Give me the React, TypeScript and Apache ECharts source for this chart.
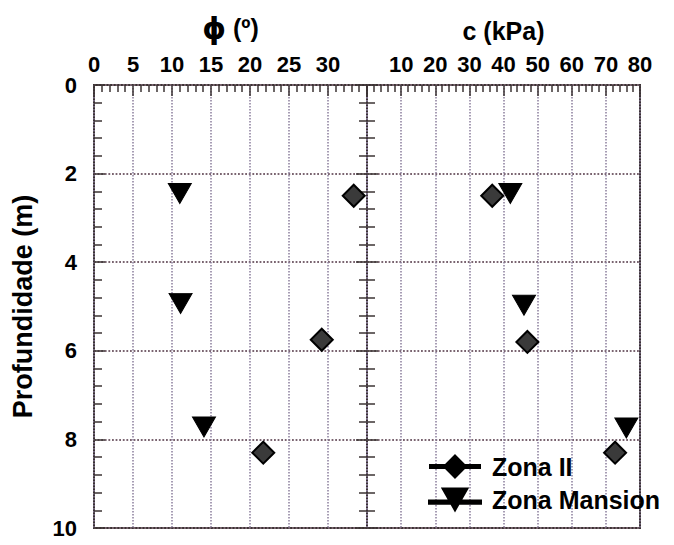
import React, { useEffect, useRef } from "react";
import * as echarts from "echarts";

// Zona II (diamond) and Zona Mansion (inverted triangle)
const phiZonaII: [number, number][] = [[33.3, 2.5], [29.2, 5.75], [21.7, 8.3]];
const phiMansion: [number, number][] = [[11.0, 2.45], [11.1, 4.93], [14.1, 7.72]];
const cZonaII: [number, number][] = [[36.7, 2.5], [47.0, 5.8], [72.7, 8.3]];
const cMansion: [number, number][] = [[42.0, 2.45], [46.0, 4.97], [76.0, 7.74]];

const seriesNames = ["Zona II", "Zona Mansion"];
const phiRange = [0, 35];
const cRange = [0, 80];
const depthRange = [0, 10];

const FONT = "Liberation Sans, Arial, Helvetica, sans-serif";
const FRAME = "#3b3333";
const DIAMOND = "path://M10,0 L20,10 L10,20 L0,10 Z";
const TRI = "path://M0,0 L22,0 L11,19 Z";
const LEG_DIAMOND = "path://M0,9.5 L50,9.5 L50,12.5 L0,12.5 Z M25,0 L36,11 L25,22 L14,11 Z";
const LEG_TRI = "path://M0,11.5 L50,11.5 L50,14.5 L0,14.5 Z M13,0 L37,0 L25,21 Z";

export default function App() {
  const ref = useRef<HTMLDivElement>(null);
  useEffect(() => {
    document.body.style.margin = "0";
    const chart = echarts.init(ref.current!, null, { renderer: "svg" });
    const tickStyle = { color: FRAME, width: 1.5 };
    const vSplit = { show: true, lineStyle: { type: "dotted", color: "#8a7d9c", width: 1.5 } };
    const hSplit = { show: true, lineStyle: { type: "dotted", color: "#7a6470", width: 1.8 } };
    const labelStyle = { fontFamily: FONT, fontWeight: "bold", fontSize: 22, color: "#000" };

    const diamondStyle = { color: "#3a3a3a", borderColor: "#000", borderWidth: 2, opacity: 1 };
    const triStyle = { color: "#000", borderColor: "#000", borderWidth: 1, opacity: 1 };

    chart.setOption({
      animation: false,
      backgroundColor: "#fff",
      textStyle: { fontFamily: FONT },
      grid: [
        { left: 94, top: 85, width: 273, height: 443, show: true, borderColor: FRAME, borderWidth: 2, backgroundColor: "transparent" },
        { left: 367, top: 85, width: 273, height: 443, show: true, borderColor: FRAME, borderWidth: 2, backgroundColor: "transparent" },
      ],
      xAxis: [
        {
          gridIndex: 0, type: "value", position: "top", min: phiRange[0], max: phiRange[1], interval: 5,
          axisLine: { show: false },
          axisTick: { show: true, inside: true, length: 11, lineStyle: tickStyle },
          minorTick: { show: true, splitNumber: 5, length: 7, lineStyle: tickStyle },
          axisLabel: { ...labelStyle, margin: 10, formatter: (v: number) => (v === phiRange[1] ? "" : String(v)) },
          splitLine: vSplit,
          name: "{phi|ϕ} (º)", nameLocation: "middle", nameGap: 42,
          nameTextStyle: {
            ...labelStyle, fontSize: 25,
            rich: { phi: { fontFamily: "DejaVu Sans, Liberation Sans", fontWeight: "bold", fontSize: 30, color: "#000" } },
          },
        },
        {
          gridIndex: 1, type: "value", position: "top", min: cRange[0], max: cRange[1], interval: 10,
          axisLine: { show: false },
          axisTick: { show: true, inside: true, length: 11, lineStyle: tickStyle },
          minorTick: { show: true, splitNumber: 5, length: 7, lineStyle: tickStyle },
          axisLabel: { ...labelStyle, margin: 10, formatter: (v: number) => (v === cRange[0] ? "" : String(v)) },
          splitLine: vSplit,
          name: "c (kPa)", nameLocation: "middle", nameGap: 42,
          nameTextStyle: { ...labelStyle, fontSize: 25 },
        },
      ],
      yAxis: [
        {
          gridIndex: 0, type: "value", inverse: true, position: "left", min: depthRange[0], max: depthRange[1], interval: 2,
          axisLine: { show: false },
          axisTick: { show: true, inside: true, length: 11, lineStyle: tickStyle },
          minorTick: { show: true, splitNumber: 5, length: 8, lineStyle: tickStyle },
          axisLabel: { ...labelStyle, margin: 17 },
          splitLine: hSplit,
          name: "Profundidade (m)", nameLocation: "middle", nameGap: 58, nameRotate: 90,
          nameTextStyle: { ...labelStyle, fontSize: 27 },
        },
        {
          gridIndex: 0, type: "value", inverse: true, position: "right", min: depthRange[0], max: depthRange[1], interval: 2,
          axisLine: { show: false },
          axisTick: { show: true, inside: true, length: 11, lineStyle: tickStyle },
          minorTick: { show: true, splitNumber: 5, length: 8, lineStyle: tickStyle },
          axisLabel: { show: false },
          splitLine: { show: false },
        },
        {
          gridIndex: 1, type: "value", inverse: true, position: "left", min: depthRange[0], max: depthRange[1], interval: 2,
          axisLine: { show: false },
          axisTick: { show: true, inside: true, length: 11, lineStyle: tickStyle },
          minorTick: { show: true, splitNumber: 5, length: 8, lineStyle: tickStyle },
          axisLabel: { show: false },
          splitLine: hSplit,
        },
      ],
      legend: {
        orient: "vertical",
        left: 426,
        top: 452,
        itemWidth: 52,
        itemHeight: 22,
        itemGap: 8,
        padding: [2, 4, 2, 2],
        itemStyle: { color: "#000", borderColor: "#000", opacity: 1 },
        textStyle: { fontFamily: FONT, fontWeight: "bold", fontSize: 25, color: "#000", padding: [0, 0, 0, 6] },
        data: [
          { name: seriesNames[0], icon: LEG_DIAMOND },
          { name: seriesNames[1], icon: LEG_TRI },
        ],
      },
      series: [
        { name: seriesNames[0], type: "scatter", xAxisIndex: 0, yAxisIndex: 0, data: phiZonaII, symbol: DIAMOND, symbolSize: 22, itemStyle: diamondStyle, z: 5 },
        { name: seriesNames[1], type: "scatter", xAxisIndex: 0, yAxisIndex: 0, data: phiMansion, symbol: TRI, symbolSize: [23, 20], itemStyle: triStyle, z: 5 },
        { name: seriesNames[0], type: "scatter", xAxisIndex: 1, yAxisIndex: 2, data: cZonaII, symbol: DIAMOND, symbolSize: 22, itemStyle: diamondStyle, z: 5 },
        { name: seriesNames[1], type: "scatter", xAxisIndex: 1, yAxisIndex: 2, data: cMansion, symbol: TRI, symbolSize: [23, 20], itemStyle: triStyle, z: 5 },
      ],
    });
    return () => chart.dispose();
  }, []);
  return <div ref={ref} style={{ width: 674, height: 545 }} />;
}
